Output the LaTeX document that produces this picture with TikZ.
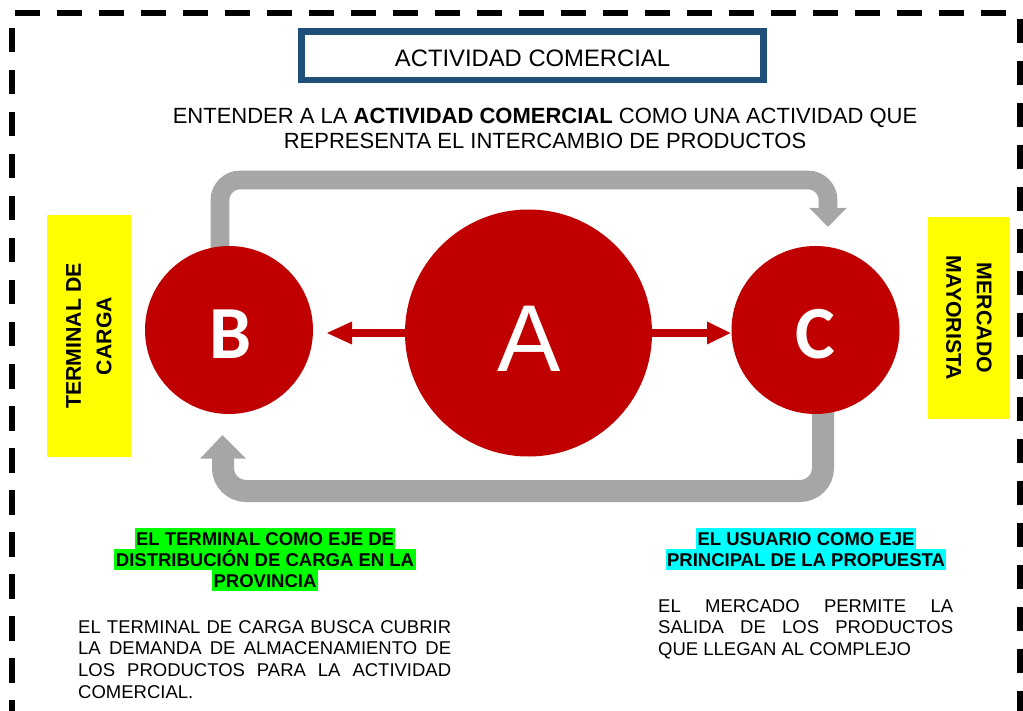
\documentclass[tikz,border=0pt]{standalone}
\usepackage{fontspec}
\setmainfont{Liberation Sans}
\newfontfamily\letterfont{Carlito}
\usetikzlibrary{calc}
\definecolor{circred}{HTML}{C00000}
\definecolor{loopgray}{HTML}{A6A6A6}
\definecolor{titleblue}{HTML}{1F4E79}
\definecolor{hlgreen}{HTML}{00FF00}
\definecolor{hlcyan}{HTML}{00FFFF}
\definecolor{boxyellow}{HTML}{FFFF00}
\begin{document}
\begin{tikzpicture}[x=1pt,y=-1pt,
  bigcirc/.style={circle, fill=circred, inner sep=0pt},
  letter/.style={text=white, inner sep=0pt},
  loopline/.style={draw=loopgray},
  redshaft/.style={draw=circred, line width=8pt},
  border/.style={draw=black, line width=6pt, dash pattern=on 24.5pt off 17.5pt},
  sidebox/.style={fill=boxyellow, inner sep=0pt, align=center,
    font=\bfseries\fontsize{21.3}{30.5}\selectfont},
  hl/.style={inner xsep=1.5pt, inner ysep=0pt, text height=17.5pt, text depth=3.5pt,
    anchor=base, font=\bfseries\fontsize{18.5}{21}\selectfont},
  body/.style={inner sep=0pt, align=justify, anchor=base west,
    font=\fontsize{18.5}{21.7}\selectfont},
]
\useasboundingbox (0,0) rectangle (1023,711);
\fill[white] (0,0) rectangle (1023,711);

% dashed frame
\draw[border] (15,13.3) -- (1012,13.3);
\draw[border] (12.2,28) -- (12.2,720);
\draw[border] (1020,18.6) -- (1020,720);
\draw[border] (15,714) -- (1012,714);

% title
\node[draw=titleblue, line width=6.5pt, minimum width=462pt, minimum height=48.7pt, inner sep=0pt] (titlebox) at (532.4,55.7) {};
\node[inner sep=0pt, font=\fontsize{23.8}{28}\selectfont] (title) at (532.5,58.3) {ACTIVIDAD COMERCIAL};

\node[inner sep=0pt, align=center, font=\fontsize{22}{25}\selectfont] (sub) at (545,128.6)
  {ENTENDER A LA \textbf{ACTIVIDAD COMERCIAL} COMO UNA ACTIVIDAD QUE\\REPRESENTA EL INTERCAMBIO DE PRODUCTOS};

% circles (positions)
\coordinate (Bc) at (229,330);
\coordinate (Ac) at (528.5,333);
\coordinate (Cc) at (815.5,330);

% gray loop connectors (behind circles)
\coordinate (bt) at ($(Bc)+(-9,0)$);
\coordinate (tc) at (828,180);
\coordinate (tend) at (828,209);
\coordinate (ctip) at (828,227);
\draw[loopline, line width=18.7pt, rounded corners=20pt] (bt) |- (tc) -- (tend);
\fill[loopgray] ($(tend)+(-18.5,-1)$) -- ($(tend)+(18.5,-1)$) -- (ctip) -- cycle;

\coordinate (cb) at ($(Cc)+(7.5,0)$);
\coordinate (bc) at (223,491);
\coordinate (bend) at (223,458);
\coordinate (btip) at (222.5,435);
\draw[loopline, line width=22pt, rounded corners=23pt] (cb) |- (bc) -- (bend);
\fill[loopgray] ($(bend)+(-22.75,0.5)$) -- ($(bend)+(22.75,0.5)$) -- (btip) -- cycle;

% circles
\node[bigcirc, minimum size=168pt] (B) at (Bc) {};
\node[bigcirc, minimum size=247pt] (A) at (Ac) {};
\node[bigcirc, minimum size=168pt] (C) at (Cc) {};

% red arrows
\coordinate (lbase) at (352,333);
\coordinate (ltip) at (327,333);
\draw[redshaft] ([xshift=2pt]A.west) -- (lbase);
\fill[circred] ($(lbase)+(0,-11.5)$) -- ($(lbase)+(0,11.5)$) -- (ltip) -- cycle;
\coordinate (rbase) at (707,333);
\coordinate (rtip) at (730.5,333);
\draw[redshaft] ([xshift=-2pt]A.east) -- (rbase);
\fill[circred] ($(rbase)+(0,-11.5)$) -- ($(rbase)+(0,11.5)$) -- (rtip) -- cycle;

% letters
\node[letter, font=\fontsize{95}{95}\selectfont] (Al) at (528.7,339) {A};
\node[letter, font=\letterfont\bfseries\fontsize{75}{75}\selectfont] (Bl) at (230.3,334.2) {B};
\node[letter, font=\letterfont\bfseries\fontsize{75}{75}\selectfont] (Cl) at (815.5,334.5) {C};

% yellow side boxes
\node[sidebox, rotate=90, minimum width=242pt, minimum height=84pt] (tl) at (89,336) {TERMINAL DE\\CARGA};
\node[sidebox, rotate=-90, minimum width=202pt, minimum height=82pt] (mm) at (969,318) {MERCADO\\MAYORISTA};

% highlighted headings
\node[hl, fill=hlgreen] (g1) at (265,545) {EL TERMINAL COMO EJE DE};
\node[hl, fill=hlgreen] (g2) at (265,566) {DISTRIBUCIÓN DE CARGA EN LA};
\node[hl, fill=hlgreen] (g3) at (265,587) {PROVINCIA};
\node[hl, fill=hlcyan] (c1) at (806,545) {EL USUARIO COMO EJE};
\node[hl, fill=hlcyan] (c2) at (806,566) {PRINCIPAL DE LA PROPUESTA};

% body texts
\node[body, text width=373pt] (lt) at (78,633)
  {EL TERMINAL DE CARGA BUSCA CUBRIR\linebreak LA DEMANDA DE ALMACENAMIENTO DE\linebreak LOS PRODUCTOS PARA LA ACTIVIDAD\linebreak COMERCIAL.};
\node[body, text width=295pt] (rt) at (658,612)
  {EL MERCADO PERMITE LA\linebreak SALIDA DE LOS PRODUCTOS\linebreak QUE LLEGAN AL COMPLEJO};
\end{tikzpicture}
\end{document}
